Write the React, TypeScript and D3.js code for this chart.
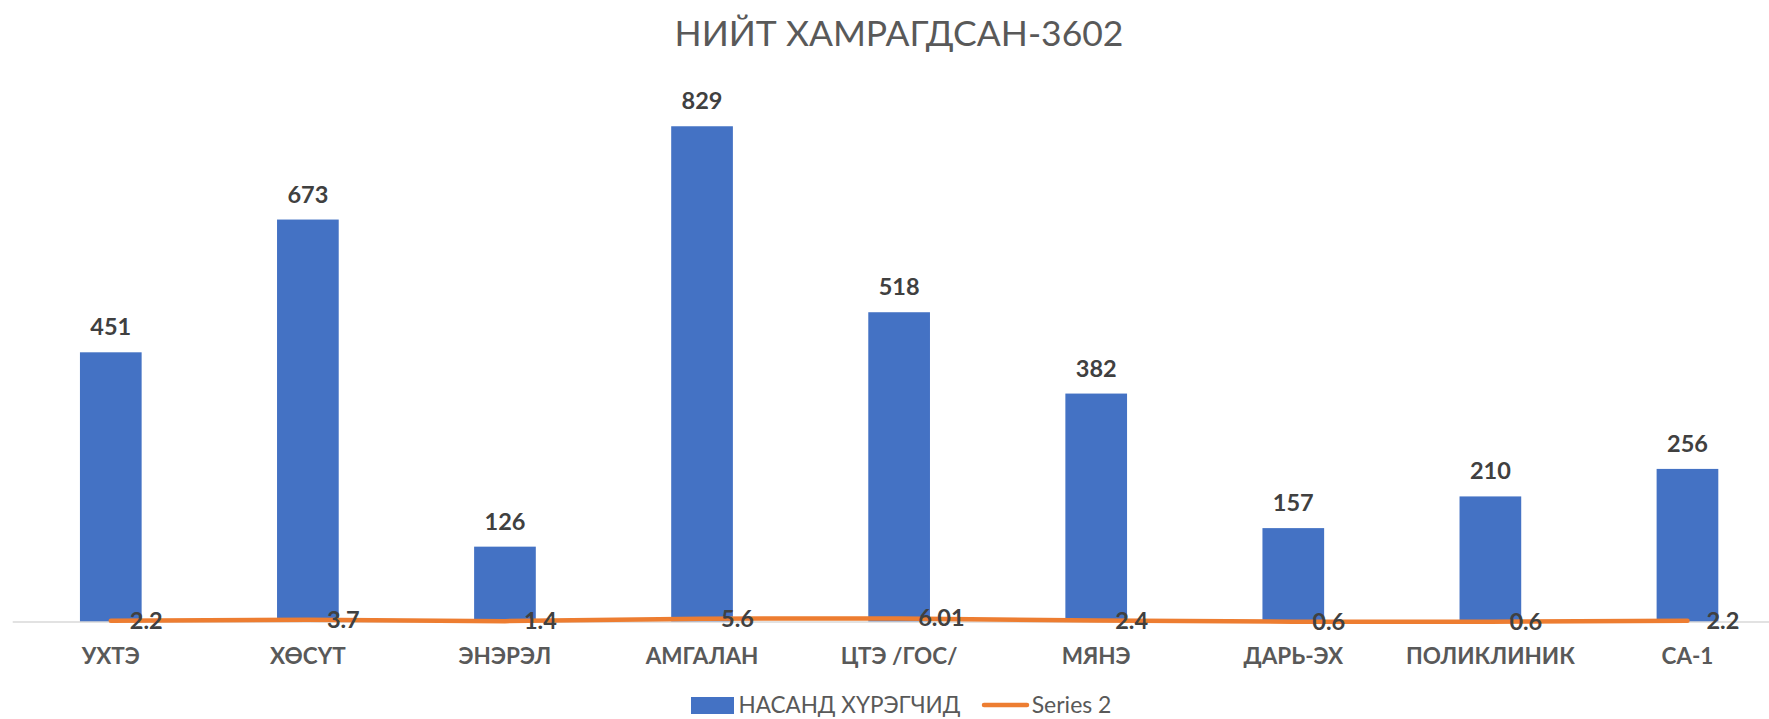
import React from "react";
import * as d3 from "d3";

const categories = ["УХТЭ", "ХӨСҮТ", "ЭНЭРЭЛ", "АМГАЛАН", "ЦТЭ /ГОС/", "МЯНЭ", "ДАРЬ-ЭХ", "ПОЛИКЛИНИК", "СА-1"];
const barValues = [451, 673, 126, 829, 518, 382, 157, 210, 256];
const lineValues = [2.2, 3.7, 1.4, 5.6, 6.01, 2.4, 0.6, 0.6, 2.2];
const lineLabels = ["2.2", "3.7", "1.4", "5.6", "6.01", "2.4", "0.6", "0.6", "2.2"];
const title = "НИЙТ ХАМРАГДСАН-3602";
const barSeriesName = "НАСАНД ХҮРЭГЧИД";
const lineSeriesName = "Series 2";
const yDomain = [0, 900];

const W = 1769;
const H = 719;
const FONT = "Lato, 'Open Sans', sans-serif";

export default function App() {
  const x = d3.scaleBand<string>().domain(categories).range([12.25, 1786]).padding(0);
  const y = d3.scaleLinear().domain(yDomain).range([622, 83.8]);
  const bw = x.bandwidth() * 0.313;
  const cx = (c: string) => (x(c) as number) + x.bandwidth() / 2;
  const line = d3
    .line<number>()
    .x((_, i) => cx(categories[i]))
    .y((d) => y(d));

  return (
    <svg
      width={W}
      height={H}
      style={{ position: "absolute", left: 0, top: 0, background: "#fff" }}
      fontFamily={FONT}
    >
      <rect x={0} y={0} width={W} height={H} fill="#fff" />
      <text x={899} y={46} textAnchor="middle" fontSize={35.5} fill="#595959">
        {title}
      </text>
      {categories.map((c, i) => (
        <rect key={c} x={cx(c) - bw / 2} y={y(barValues[i])} width={bw} height={y(0) - y(barValues[i])} fill="#4472C4" />
      ))}
      <line x1={12.7} x2={W} y1={y(0)} y2={y(0)} stroke="#D9D9D9" strokeWidth={1.5} />
      <path d={line(lineValues) || ""} fill="none" stroke="#ED7D31" strokeWidth={4.5} strokeLinecap="round" strokeLinejoin="round" />
      {categories.map((c, i) => (
        <text key={"bl" + c} x={cx(c)} y={y(barValues[i]) - 17} textAnchor="middle" fontSize={23.5} fontWeight="bold" fill="#404040">
          {barValues[i]}
        </text>
      ))}
      {categories.map((c, i) => (
        <text key={"ll" + c} x={cx(c) + 19} y={y(lineValues[i]) + 8} textAnchor="start" fontSize={23.5} fontWeight="bold" fill="#404040">
          {lineLabels[i]}
        </text>
      ))}
      {categories.map((c) => (
        <text key={"cl" + c} x={cx(c)} y={664} textAnchor="middle" fontSize={22.5} fontWeight="bold" fill="#595959">
          {c}
        </text>
      ))}
      <rect x={691} y={697} width={43} height={17} fill="#4472C4" />
      <text x={738.5} y={712.5} fontSize={22.5} fill="#595959">
        {barSeriesName}
      </text>
      <line x1={984} x2={1027} y1={705} y2={705} stroke="#ED7D31" strokeWidth={4.5} strokeLinecap="round" />
      <text x={1031.7} y={712.5} fontSize={23} fill="#595959">
        {lineSeriesName}
      </text>
    </svg>
  );
}
